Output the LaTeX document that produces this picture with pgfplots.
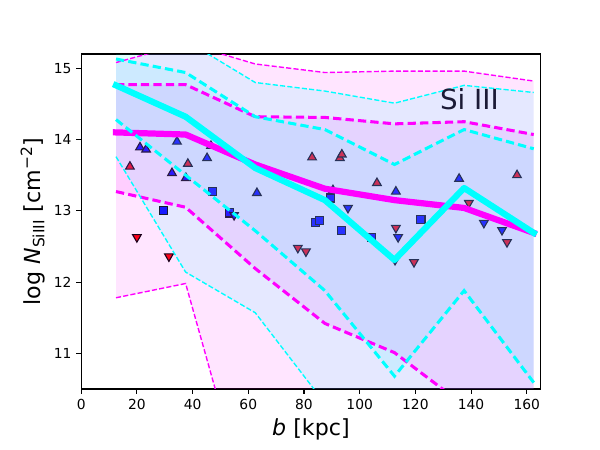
\documentclass[border=0pt]{standalone}
\usepackage{pgfplots}
\pgfplotsset{compat=1.18}
\usepackage{fontspec}
\setmainfont{DejaVu Sans}
\definecolor{mpmag}{RGB}{255,0,255}
\definecolor{mpcyan}{RGB}{0,255,255}
\definecolor{mpred}{RGB}{255,0,0}
\definecolor{mpblue}{RGB}{0,0,255}
\definecolor{txt}{RGB}{27,26,54}
\begin{document}
\begin{tikzpicture}
\useasboundingbox (-0.812in,-0.61in) rectangle +(6in,4.5in);
\begin{axis}[
  at={(0,0)}, anchor=south west,
  scale only axis, width=4.595in, height=3.35in,
  xmin=0, xmax=165, ymin=10.5, ymax=15.2,
  xtick={0,20,...,160}, ytick={11,12,13,14,15},
  tick pos=left, tick align=outside, major tick length=3.5pt,
  every tick/.style={black, line width=0.8pt},
  axis line style={line width=0.8pt},
  /pgf/number format/assume math mode=true,
  ticklabel style={font=\fontsize{10}{12}\selectfont},
  xlabel={\textit{b} [kpc]},
  ylabel={log \textit{N}\textsubscript{SiIII} [cm\textsuperscript{−2}]},
  every axis x label/.style={at={(axis description cs:0.5,-0.122)}, anchor=center, font=\fontsize{16}{19}\selectfont},
  every axis y label/.style={at={(axis description cs:-0.105,0.5)}, anchor=center, rotate=90, font=\fontsize{16}{19}\selectfont},
  clip=true, clip marker paths=true,
]
% ---- markers (drawn first, fills go over them) ----
\addplot[only marks, mark=triangle*, mark size=3.6pt, mark options={fill=mpred, draw=black, line width=0.8pt}] coordinates {
 (17.5,13.62) (38.3,13.66) (82.9,13.75) (92.9,13.74) (93.6,13.79) (106.2,13.39) (156.5,13.50)};
\addplot[only marks, mark=triangle*, mark size=3.6pt, mark options={fill=mpblue, draw=black, line width=0.8pt}] coordinates {
 (21.1,13.89) (23.3,13.86) (34.4,13.97) (46.6,13.91) (45.2,13.74) (32.6,13.53) (37.6,13.46) (63.1,13.25) (90.4,13.29) (113.0,13.27) (135.7,13.45)};
\addplot[only marks, mark=square*, mark size=2.9pt, mark options={fill=mpblue, draw=black, line width=0.8pt}] coordinates {
 (47.3,13.27) (29.7,13.00) (53.4,12.97) (84.1,12.84) (85.5,12.87) (89.6,13.18) (93.6,12.72) (104.1,12.63) (122.0,12.88)};
\addplot[only marks, mark=triangle*, mark size=3.6pt, mark options={fill=mpblue, draw=black, line width=0.8pt, rotate=180}] coordinates {
 (54.9,12.94) (95.8,13.04) (113.8,12.63) (112.7,12.31) (144.6,12.83) (151.1,12.73)};
\addplot[only marks, mark=triangle*, mark size=3.6pt, mark options={fill=mpred, draw=black, line width=0.8pt, rotate=180}] coordinates {
 (20.0,12.63) (31.5,12.36) (77.8,12.48) (80.7,12.43) (113.0,12.76) (119.5,12.28) (139.2,13.11) (152.9,12.56)};
% ---- fills ----
\addplot[draw=none, fill=mpmag, fill opacity=0.1] coordinates {
 (12.5,15.08) (37.5,15.35) (62.5,15.06) (87.5,14.94) (112.5,14.96) (137.5,14.96) (162.5,14.82)
 (162.5,8.0) (137.5,8.0) (112.5,8.0) (87.5,8.0) (62.5,8.5) (37.5,11.98) (12.5,11.78)} -- cycle;
\addplot[draw=none, fill=mpmag, fill opacity=0.1] coordinates {
 (12.5,14.77) (37.5,14.77) (62.5,14.32) (87.5,14.31) (112.5,14.22) (137.5,14.25) (162.5,14.07)
 (162.5,9.9) (137.5,10.27) (112.5,11.01) (87.5,11.42) (62.5,12.19) (37.5,13.05) (12.5,13.27)} -- cycle;
\addplot[draw=none, fill=mpcyan, fill opacity=0.1] coordinates {
 (12.5,15.45) (37.5,15.39) (62.5,14.80) (87.5,14.68) (112.5,14.51) (137.5,14.76) (162.5,14.66)
 (162.5,9.5) (137.5,9.5) (112.5,9.5) (87.5,10.30) (62.5,11.57) (37.5,12.14) (12.5,13.76)} -- cycle;
\addplot[draw=none, fill=mpcyan, fill opacity=0.1] coordinates {
 (12.5,15.13) (37.5,14.94) (62.5,14.32) (87.5,14.14) (112.5,13.65) (137.5,14.14) (162.5,13.87)
 (162.5,10.59) (137.5,11.88) (112.5,10.68) (87.5,11.88) (62.5,12.72) (37.5,13.50) (12.5,14.28)} -- cycle;
% ---- magenta lines ----
\addplot[mpmag, line width=1pt, dash pattern=on 3.7pt off 1.6pt] coordinates {
 (12.5,15.08) (37.5,15.35) (62.5,15.06) (87.5,14.94) (112.5,14.96) (137.5,14.96) (162.5,14.82)};
\addplot[mpmag, line width=1pt, dash pattern=on 3.7pt off 1.6pt] coordinates {
 (12.5,11.78) (37.5,11.98) (62.5,8.5) (87.5,8.0) (112.5,8.0) (137.5,8.0) (162.5,8.0)};
\addplot[mpmag, line width=2.2pt, dash pattern=on 6pt off 3pt] coordinates {
 (12.5,14.77) (37.5,14.77) (62.5,14.32) (87.5,14.31) (112.5,14.22) (137.5,14.25) (162.5,14.07)};
\addplot[mpmag, line width=2.2pt, dash pattern=on 6pt off 3pt] coordinates {
 (12.5,13.27) (37.5,13.05) (62.5,12.19) (87.5,11.42) (112.5,11.01) (137.5,10.27) (162.5,9.9)};
\addplot[mpmag, line width=4.5pt, line join=round, line cap=rect] coordinates {
 (12.5,14.10) (37.5,14.07) (62.5,13.65) (87.5,13.31) (112.5,13.15) (137.5,13.04) (162.5,12.69)};
% ---- cyan lines ----
\addplot[mpcyan, line width=1pt, dash pattern=on 3.7pt off 1.6pt] coordinates {
 (12.5,15.45) (37.5,15.39) (62.5,14.80) (87.5,14.68) (112.5,14.51) (137.5,14.76) (162.5,14.66)};
\addplot[mpcyan, line width=1pt, dash pattern=on 3.7pt off 1.6pt] coordinates {
 (12.5,13.76) (37.5,12.14) (62.5,11.57) (87.5,10.30) (112.5,9.5) (137.5,9.5) (162.5,9.5)};
\addplot[mpcyan, line width=2.2pt, dash pattern=on 6pt off 3pt] coordinates {
 (12.5,15.13) (37.5,14.94) (62.5,14.32) (87.5,14.14) (112.5,13.65) (137.5,14.14) (162.5,13.87)};
\addplot[mpcyan, line width=2.2pt, dash pattern=on 6pt off 3pt] coordinates {
 (12.5,14.28) (37.5,13.50) (62.5,12.72) (87.5,11.88) (112.5,10.68) (137.5,11.88) (162.5,10.59)};
\addplot[mpcyan, line width=4.5pt, line join=round, line cap=rect] coordinates {
 (12.5,14.76) (37.5,14.32) (62.5,13.60) (87.5,13.15) (112.5,12.31) (137.5,13.32) (162.5,12.69)};
\node[anchor=base west, inner sep=0pt, text=txt, font=\fontsize{20}{24}\selectfont] at (axis cs:128.8,14.42) {Si III};
\end{axis}
\end{tikzpicture}
\end{document}
